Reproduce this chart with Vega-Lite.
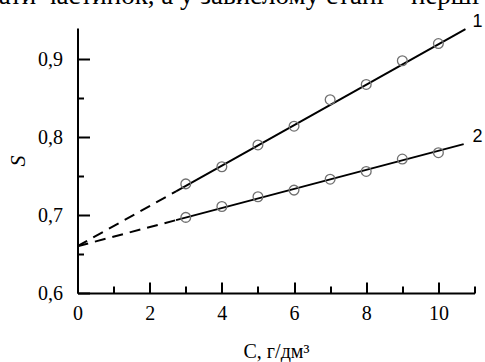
{
  "$schema": "https://vega.github.io/schema/vega-lite/v6.json",
  "width": 397,
  "height": 265,
  "autosize": {"type": "none"},
  "padding": {"left": 77.5, "top": 28, "right": 10.5, "bottom": 69},
  "background": "white",
  "title": {
    "text": "тати частинок, а у завислому стані – перші",
    "anchor": "start",
    "frame": "group",
    "dx": -91,
    "offset": -18,
    "baseline": "alphabetic",
    "font": "Liberation Serif",
    "fontSize": 27,
    "fontWeight": "normal",
    "color": "black"
  },
  "config": {
    "view": {"stroke": null},
    "axis": {
      "grid": false,
      "domainColor": "black",
      "domainWidth": 2,
      "tickColor": "black",
      "tickWidth": 2,
      "labelFont": "Liberation Serif",
      "labelFontSize": 20,
      "labelColor": "black",
      "titleFont": "Liberation Serif",
      "titleColor": "black",
      "titleFontWeight": "normal"
    }
  },
  "datasets": {
    "points": [
      {"series": "1", "C": 3, "S": 0.740},
      {"series": "1", "C": 4, "S": 0.762},
      {"series": "1", "C": 5, "S": 0.790},
      {"series": "1", "C": 6, "S": 0.814},
      {"series": "1", "C": 7, "S": 0.848},
      {"series": "1", "C": 8, "S": 0.8676},
      {"series": "1", "C": 9, "S": 0.898},
      {"series": "1", "C": 10, "S": 0.920},
      {"series": "2", "C": 3, "S": 0.697},
      {"series": "2", "C": 4, "S": 0.711},
      {"series": "2", "C": 5, "S": 0.7235},
      {"series": "2", "C": 6, "S": 0.732},
      {"series": "2", "C": 7, "S": 0.746},
      {"series": "2", "C": 8, "S": 0.756},
      {"series": "2", "C": 9, "S": 0.7718},
      {"series": "2", "C": 10, "S": 0.780}
    ],
    "fitDashed": [
      {"series": "1", "C": 0, "S": 0.660},
      {"series": "1", "C": 2.73, "S": 0.7303},
      {"series": "2", "C": 0, "S": 0.660},
      {"series": "2", "C": 2.73, "S": 0.6935}
    ],
    "fitSolid": [
      {"series": "1", "C": 2.73, "S": 0.7303},
      {"series": "1", "C": 10.75, "S": 0.9385},
      {"series": "2", "C": 2.73, "S": 0.6935},
      {"series": "2", "C": 10.7, "S": 0.791}
    ],
    "labels": [
      {"series": "1", "C": 11.08, "S": 0.948},
      {"series": "2", "C": 11.08, "S": 0.800}
    ]
  },
  "encoding": {
    "x": {
      "field": "C",
      "type": "quantitative",
      "scale": {"domain": [0, 11], "nice": false, "zero": false},
      "axis": {
        "values": [0, 1, 2, 3, 4, 5, 6, 7, 8, 9, 10, 11],
        "labelExpr": "datum.value % 2 === 0 ? format(datum.value, 'd') : ''",
        "tickSize": {"condition": {"test": "datum.value % 2 === 1", "value": -7}, "value": -11},
        "labelPadding": 21,
        "labelFlush": false,
        "title": "C, г/дм³",
        "titleFontSize": 20,
        "titlePadding": 18
      }
    },
    "y": {
      "field": "S",
      "type": "quantitative",
      "scale": {"domain": [0.6, 0.94], "nice": false, "zero": false},
      "axis": {
        "values": [0.6, 0.65, 0.7, 0.75, 0.8, 0.85, 0.9],
        "labelExpr": "round(datum.value * 100) % 10 === 5 ? '' : replace(format(datum.value, '.1f'), '.', ',')",
        "tickSize": {"condition": {"test": "round(datum.value * 100) % 10 === 5", "value": -6}, "value": -12},
        "labelPadding": 27,
        "labelFlush": false,
        "title": "S",
        "titleFontSize": 22,
        "titleFontStyle": "italic",
        "titlePadding": 8
      }
    }
  },
  "layer": [
    {
      "data": {"name": "fitDashed"},
      "mark": {"type": "line", "color": "black", "strokeWidth": 2, "strokeDash": [11, 7], "clip": false},
      "encoding": {"detail": {"field": "series"}}
    },
    {
      "data": {"name": "fitSolid"},
      "mark": {"type": "line", "color": "black", "strokeWidth": 2, "clip": false},
      "encoding": {"detail": {"field": "series"}}
    },
    {
      "data": {"name": "points"},
      "mark": {"type": "point", "shape": "circle", "filled": false, "stroke": "#707070", "strokeWidth": 1.3, "size": 95, "opacity": 1, "clip": false}
    },
    {
      "data": {"name": "labels"},
      "mark": {"type": "text", "font": "Liberation Sans", "fontSize": 18, "color": "black", "align": "center", "baseline": "middle", "clip": false},
      "encoding": {"text": {"field": "series"}}
    }
  ]
}
